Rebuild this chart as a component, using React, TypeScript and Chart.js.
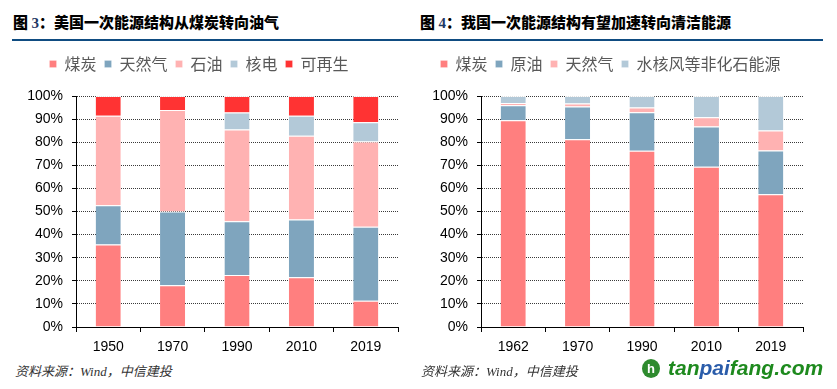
import React, { useEffect, useRef } from "react";
import { Chart, registerables } from "chart.js";

Chart.register(...registerables);

// ---- Data: US primary energy structure (%) ----
const usCategories = ["1950", "1970", "1990", "2010", "2019"];
const usCoal = [35.7, 18.1, 22.5, 21.5, 11.4];
const usGas = [17.0, 31.9, 23.3, 25.0, 32.0];
const usOil = [38.8, 43.9, 39.7, 36.3, 36.9];
const usNuclear = [0, 0, 7.4, 8.7, 8.3];
const usRenewable = [8.5, 6.1, 7.1, 8.5, 11.4];

// ---- Data: China primary energy structure (%) ----
const cnCategories = ["1962", "1970", "1990", "2010", "2019"];
const cnCoal = [89.5, 81.3, 76.3, 69.4, 57.5];
const cnOil = [6.5, 14.2, 16.7, 17.4, 18.9];
const cnGas = [1.0, 1.2, 2.0, 4.0, 8.7];
const cnOther = [3.0, 3.3, 5.0, 9.2, 14.9];

const yTicks = [0, 10, 20, 30, 40, 50, 60, 70, 80, 90, 100];

const C_COAL = "#FF7F7F";
const C_GAS = "#7FA5BE";
const C_OIL = "#FFB2B2";
const C_NUC = "#B3C9D8";
const C_REN = "#FF3333";

type DS = { label: string; data: number[]; color: string };

function makeConfig(categories: string[], sets: DS[], yWidth: number, padRight: number): any {
  return {
    type: "bar",
    data: {
      labels: categories,
      datasets: sets.map((s) => ({
        label: s.label,
        data: s.data,
        backgroundColor: s.color,
        borderColor: "rgba(255,255,255,0.85)",
        borderWidth: { top: 1, left: 0, right: 0, bottom: 0 },
        borderSkipped: false,
        categoryPercentage: 1,
        barPercentage: 0.39,
      })),
    },
    options: {
      animation: false,
      responsive: false,
      layout: { padding: { left: 0, right: padRight, top: 0, bottom: 0 } },
      plugins: {
        tooltip: { enabled: false },
        legend: {
          position: "top",
          align: "center",
          labels: {
            boxWidth: 7,
            boxHeight: 7,
            padding: 8,
            color: "#595959",
            font: { family: "'Noto Sans CJK SC', sans-serif", size: 16 },
          },
        },
      },
      scales: {
        x: {
          stacked: true,
          grid: {
            display: true,
            drawOnChartArea: false,
            offset: true,
            tickLength: 5,
            color: "#000",
          },
          border: { display: true, color: "#000", width: 1 },
          ticks: {
            color: "#000",
            padding: 7,
            font: { family: "'Liberation Sans', Arial, sans-serif", size: 14 },
          },
          afterFit: (scale: any) => {
            scale.height = 35;
          },
        },
        y: {
          stacked: true,
          min: 0,
          max: 100,
          afterBuildTicks: (scale: any) => {
            scale.ticks = yTicks.map((v) => ({ value: v }));
          },
          grid: {
            color: "#3a3a3a",
            lineWidth: 1,
            tickLength: 4,
            tickColor: "#000",
            tickBorderDash: [],
          },
          border: { display: true, color: "#000", width: 1, dash: [1, 1] },
          ticks: {
            color: "#000",
            padding: 9,
            font: { family: "'Liberation Sans', Arial, sans-serif", size: 14 },
            callback: (v: any) => v + "%",
          },
          afterFit: (scale: any) => {
            scale.width = yWidth;
          },
        },
      },
    },
    plugins: [
      {
        id: "legendHeight",
        afterInit(chart: any) {
          const lg = chart.legend;
          if (lg && !lg.__patched) {
            const orig = lg.fit;
            lg.fit = function () {
              orig.call(this);
              this.height = 48;
            };
            lg.__patched = true;
          }
        },
      },
    ],
  };
}

function BarChart(props: { config: any; width: number; height: number; left: number; top: number }) {
  const ref = useRef<HTMLCanvasElement | null>(null);
  useEffect(() => {
    if (!ref.current) return;
    const chart = new Chart(ref.current, props.config);
    return () => chart.destroy();
  }, []);
  return (
    <canvas
      ref={ref}
      width={props.width}
      height={props.height}
      style={{ position: "absolute", left: props.left, top: props.top, width: props.width, height: props.height }}
    />
  );
}

const titleStyle: React.CSSProperties = {
  position: "absolute",
  top: 13,
  height: 18,
  lineHeight: "18px",
  fontSize: 15,
  fontWeight: 900,
  fontFamily: "'Noto Sans CJK SC', sans-serif",
  color: "#000",
  whiteSpace: "nowrap",
};

const sourceStyle: React.CSSProperties = {
  position: "absolute",
  top: 364,
  height: 16,
  lineHeight: "16px",
  fontSize: 13,
  fontStyle: "italic",
  fontFamily: "'Liberation Serif', 'Noto Sans CJK SC', serif",
  color: "#333",
  whiteSpace: "nowrap",
};

export default function App() {
  const usConfig = makeConfig(
    usCategories,
    [
      { label: "煤炭", data: usCoal, color: C_COAL },
      { label: "天然气", data: usGas, color: C_GAS },
      { label: "石油", data: usOil, color: C_OIL },
      { label: "核电", data: usNuclear, color: C_NUC },
      { label: "可再生", data: usRenewable, color: C_REN },
    ],
    76,
    20
  );
  const cnConfig = makeConfig(
    cnCategories,
    [
      { label: "煤炭", data: cnCoal, color: C_COAL },
      { label: "原油", data: cnOil, color: C_GAS },
      { label: "天然气", data: cnGas, color: C_OIL },
      { label: "水核风等非化石能源", data: cnOther, color: C_NUC },
    ],
    63,
    34
  );
  return (
    <div
      style={{
        position: "absolute",
        left: 0,
        top: 0,
        width: 837,
        height: 389,
        background: "#fff",
        overflow: "hidden",
      }}
    >
      <div style={{ ...titleStyle, left: 13 }}>
        图 <span style={{ color: "#1F3864", fontFamily: "'Liberation Serif', serif" }}>3</span>：美国一次能源结构从煤炭转向油气
      </div>
      <div style={{ ...titleStyle, left: 420 }}>
        图 <span style={{ color: "#1F3864", fontFamily: "'Liberation Serif', serif" }}>4</span>：我国一次能源结构有望加速转向清洁能源
      </div>
      <div style={{ position: "absolute", left: 12, top: 39, width: 811, height: 2, background: "#0F4C81" }} />

      <BarChart config={usConfig} width={418} height={314} left={0} top={48} />
      <BarChart config={cnConfig} width={419} height={314} left={418} top={48} />

      <div style={{ ...sourceStyle, left: 15 }}>资料来源：Wind，中信建投</div>
      <div style={{ ...sourceStyle, left: 421 }}>资料来源：Wind，中信建投</div>

      <div
        style={{
          position: "absolute",
          left: 642,
          top: 359,
          width: 18,
          height: 19,
          borderRadius: "50%",
          background: "#2E8B2E",
          color: "#fff",
          fontSize: 13,
          fontWeight: 700,
          lineHeight: "19px",
          textAlign: "center",
          fontFamily: "'Liberation Sans', sans-serif",
        }}
      >
        h
      </div>
      <div
        style={{
          position: "absolute",
          left: 668,
          top: 356,
          height: 24,
          lineHeight: "24px",
          fontSize: 21,
          fontWeight: 700,
          fontStyle: "italic",
          fontFamily: "'Liberation Sans', Arial, sans-serif",
          whiteSpace: "nowrap",
          color: "#1E8A1E",
        }}
      >
        tan<span style={{ color: "#2A5CAA" }}>pai</span>fang.com
      </div>
    </div>
  );
}
